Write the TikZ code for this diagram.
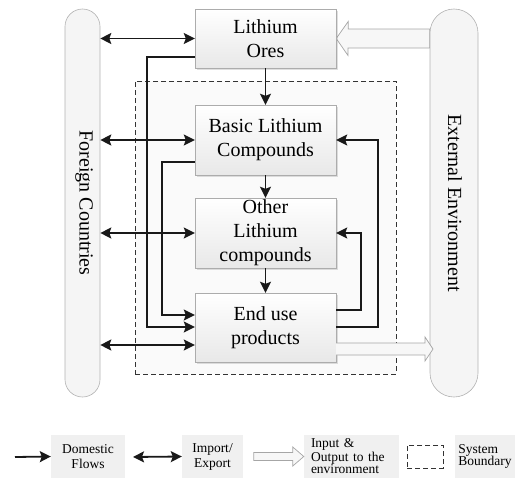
\documentclass[tikz,border=0pt]{standalone}
\usepackage{fontspec}
\setmainfont{Liberation Serif}
\usetikzlibrary{arrows.meta,shadows,backgrounds}

\tikzset{
  stage/.style={draw=gray!65, top color=white, bottom color=gray!18, minimum width=141pt, inner sep=0pt, align=center,
    font=\fontsize{20}{24}\selectfont, drop shadow={shadow xshift=1.5pt, shadow yshift=-1.5pt, opacity=0.25, fill=gray}},
  pill/.style={draw=gray!60, fill=gray!8, rounded corners=#1, line width=0.6pt},
  flow/.style={->, >={Stealth[length=11pt,width=11pt,inset=2pt]}, line width=1.8pt, draw=gray!20!black},
  trade/.style={flow, <->},
  envflow/.style={draw=gray!70, fill=gray!6, line width=0.7pt},
  bound/.style={draw=gray!40!black, dash pattern=on 5pt off 3pt, line width=0.6pt},
  key/.style={fill=gray!12, inner sep=0pt, minimum height=43pt, align=center, font=\fontsize{13.5}{15}\selectfont}
}

\begin{document}
\begin{tikzpicture}[x=1pt, y=-1pt]
  \useasboundingbox (0,0) rectangle (522,479);
  % system boundary
  \node[bound, fill=gray!4, minimum width=261pt, minimum height=293pt] (sysbound) at (265.5,227.5) {};
  % outside world
  \node[pill=17.5pt, minimum width=35pt, minimum height=388pt] (foreign) at (82.5,203) {};
  \node[rotate=-90, font=\fontsize{20}{24}\selectfont] (foreignlbl) at (84,203) {Foreign Countries};
  \node[pill=24pt, minimum width=48pt, minimum height=388pt] (extenv) at (454,203) {};
  \node[rotate=-90, font=\fontsize{20}{24}\selectfont] (extenvlbl) at (455,203) {External Environment};

  % stages
  \node[stage, minimum height=59pt] (ores) at (265.5,38.5) {Lithium\\Ores};
  \node[stage, minimum height=70pt] (basic) at (265.5,140) {Basic Lithium\\Compounds};
  \node[stage, minimum height=70pt] (other) at (265.5,233) {Other\\Lithium\\compounds};
  \node[stage, minimum height=69pt] (enduse) at (265.5,327.5) {End use\\products};

  % environment in/out
  \begin{pgfonlayer}{background}
    \draw[envflow] (ores.east) -- ++(12,-17) -- ++(0,7.5) -- (extenv.west |- 0,29) -- (extenv.west |- 0,48)
      -- (348,48) -- ++(0,7.5) -- cycle;
  \end{pgfonlayer}
  \draw[envflow] (enduse.east |- 0,343) -- (425,343) -- (425,337) -- (433,349) -- (425,361) -- (425,355)
    -- (enduse.east |- 0,355);

  % domestic flows
  \draw[flow] (ores) -- (basic);
  \draw[flow] (basic) -- (other);
  \draw[flow] (other) -- (enduse);
  \draw[flow] (ores.west |- 0,57) -| (147,327) -- (enduse.west |- 0,327);
  \draw[flow] (basic.west |- 0,162) -| (162,315) -- (enduse.west |- 0,315);
  \draw[flow] (enduse.east |- 0,327) -| (378,140) -- (basic.east);
  \draw[flow] (enduse.east |- 0,310) -| (361,233) -- (other.east);

  % import / export
  \draw[trade] (foreign.east |- ores.west) -- (ores.west);
  \draw[trade] (foreign.east |- basic.west) -- (basic.west);
  \draw[trade] (foreign.east |- other.west) -- (other.west);
  \draw[trade] (foreign.east |- 0,345) -- (enduse.west |- 0,345);

  % legend
  \node[key, minimum width=74pt] (kdom) at (88,456.5) {Domestic\\Flows};
  \coordinate (kdomtail) at (15,457);
  \draw[flow] (kdomtail) -- (kdom.west);
  \node[key, minimum width=61pt] (kimp) at (212.5,456.5) {Import/\\Export};
  \coordinate (kimptail) at (133,457);
  \draw[trade] (kimptail) -- (kimp.west);
  \node[key, minimum width=95pt, align=left, text width=81pt, font=\fontsize{13.5}{11.5}\selectfont] (kenv) at (351.5,456.5) {Input \&\\Output to the\\environment};
  \draw[envflow] (kenv.west) -- ++(-11,-9.5) -- ++(0,5.5) -- ++(-39,0) -- ++(0,8) -- ++(39,0) -- ++(0,5.5) -- cycle;
  \node[bound, fill=white, minimum width=36pt, minimum height=23pt] (kbnd) at (425,456.5) {};
  \node[key, minimum width=60pt, align=left, font=\fontsize{13.5}{12.5}\selectfont] (ksys) at (485,456.5) {System\\Boundary};
\end{tikzpicture}
\end{document}
